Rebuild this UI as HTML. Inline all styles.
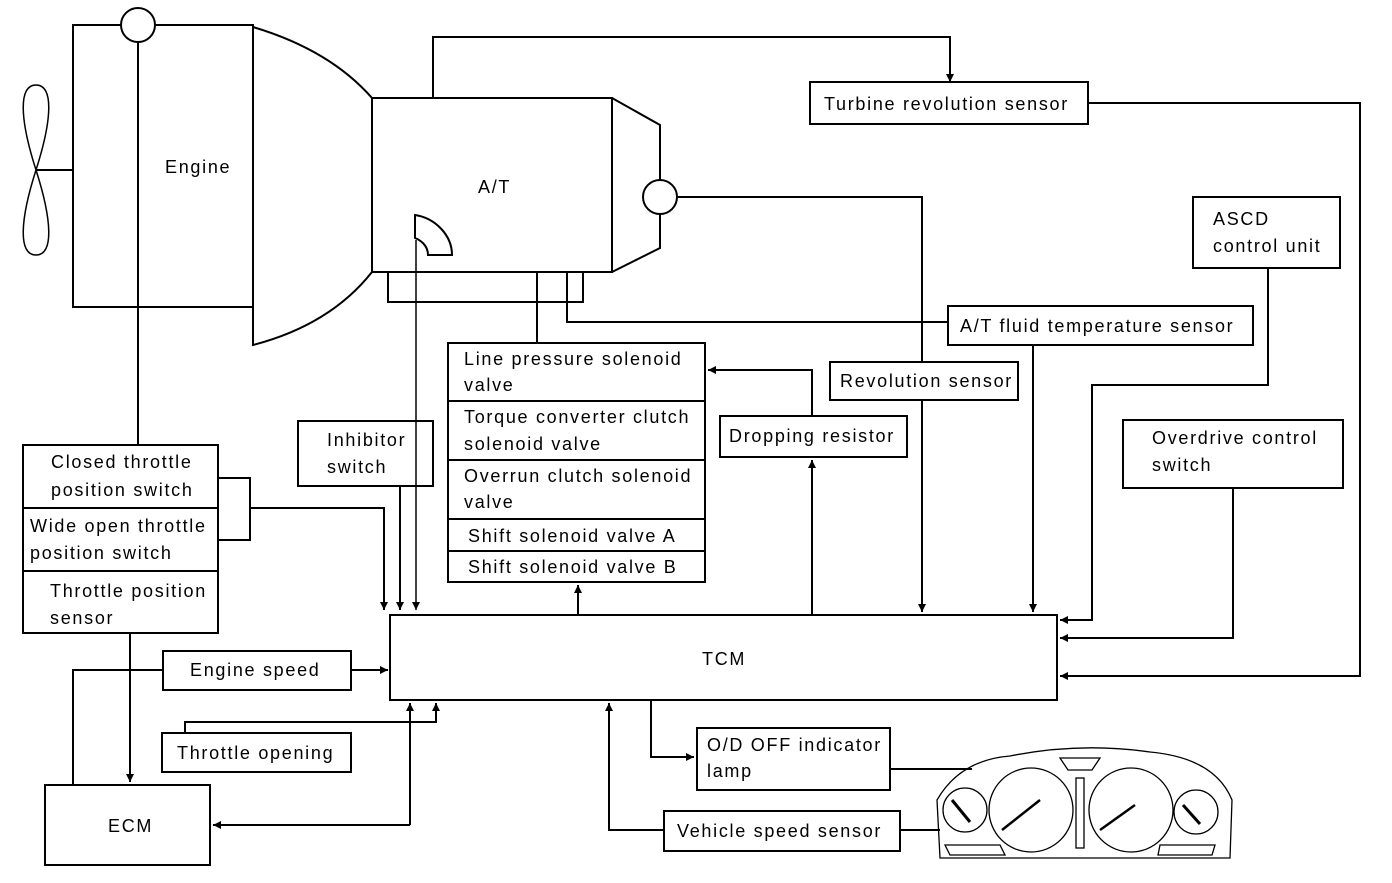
<!DOCTYPE html>
<html><head><meta charset="utf-8"><style>
html,body{margin:0;padding:0;background:#fff;}
svg text{font-family:"Liberation Sans",sans-serif;font-size:18px;fill:#000;letter-spacing:1.7px;}
</style></head><body>
<svg width="1392" height="878" viewBox="0 0 1392 878" xmlns="http://www.w3.org/2000/svg">
<defs><marker id="a" markerWidth="8" markerHeight="10" refX="8" refY="5" orient="auto" markerUnits="userSpaceOnUse"><path d="M0,1 L8,5 L0,9 z" fill="#000"/></marker></defs>
<g fill="none" stroke="#000" stroke-width="2">
<!-- fan -->
<path d="M36,170 C20,120 18,85 36,85 C54,85 52,120 36,170 C20,220 18,255 36,255 C54,255 52,220 36,170" stroke-width="1.5"/>
<line x1="36" y1="170" x2="73" y2="170"/>
<!-- engine -->
<rect x="73" y="25" width="180" height="282"/>
<line x1="138" y1="42" x2="138" y2="445"/>
<circle cx="138" cy="25" r="17" fill="#fff"/>
<path d="M253,27 Q330,50 372,98 L372,272 Q330,325 253,345 Z"/>
<!-- AT -->
<rect x="372" y="98" width="240" height="174"/>
<path d="M612,98 L660,125 L660,248 L612,272"/>
<path d="M415,215 C435,218 452,235 452,255 L428,255 C428,245 420,240 415,238 Z"/>
<circle cx="660" cy="197" r="17" fill="#fff"/>
<rect x="388" y="272" width="195" height="30"/>
<polyline points="433,98 433,37 950,37 950,82" marker-end="url(#a)"/>
<polyline points="677,197 922,197 922,362"/>
<line x1="922" y1="400" x2="922" y2="612" marker-end="url(#a)"/>
<line x1="537" y1="272" x2="537" y2="343"/>
<polyline points="567,272 567,322 948,322"/>
<line x1="416" y1="240" x2="416" y2="610" stroke-width="1.5" marker-end="url(#a)"/>
<line x1="400" y1="486" x2="400" y2="610" marker-end="url(#a)"/>
<!-- boxes -->
<rect x="810" y="82" width="278" height="42"/>
<polyline points="1088,103 1360,103 1360,676 1060,676" marker-end="url(#a)"/>
<rect x="1193" y="197" width="147" height="71"/>
<polyline points="1268,268 1268,385 1092,385 1092,620 1060,620" marker-end="url(#a)"/>
<rect x="948" y="306" width="305" height="39"/>
<line x1="1033" y1="345" x2="1033" y2="612" marker-end="url(#a)"/>
<rect x="1123" y="420" width="220" height="68"/>
<polyline points="1233,488 1233,638 1060,638" marker-end="url(#a)"/>
<rect x="830" y="362" width="188" height="38"/>
<rect x="720" y="416" width="187" height="41"/>
<line x1="812" y1="615" x2="812" y2="460" marker-end="url(#a)"/>
<polyline points="812,416 812,370 708,370" marker-end="url(#a)"/>
<rect x="448" y="343" width="257" height="239"/>
<line x1="448" y1="401" x2="705" y2="401"/>
<line x1="448" y1="460" x2="705" y2="460"/>
<line x1="448" y1="519" x2="705" y2="519"/>
<line x1="448" y1="551" x2="705" y2="551"/>
<line x1="578" y1="615" x2="578" y2="585" marker-end="url(#a)"/>
<rect x="298" y="421" width="135" height="65"/>
<rect x="390" y="615" width="667" height="85"/>
<!-- throttle -->
<rect x="23" y="445" width="195" height="188"/>
<line x1="23" y1="508" x2="218" y2="508"/>
<line x1="23" y1="571" x2="218" y2="571"/>
<polyline points="218,478 250,478 250,540 218,540"/>
<polyline points="250,508 384,508 384,610" marker-end="url(#a)"/>
<line x1="130" y1="633" x2="130" y2="782" marker-end="url(#a)"/>
<rect x="45" y="785" width="165" height="80"/>
<rect x="163" y="651" width="188" height="39"/>
<line x1="351" y1="670" x2="388" y2="670" marker-end="url(#a)"/>
<polyline points="163,670 73,670 73,785"/>
<rect x="162" y="733" width="189" height="39"/>
<polyline points="185,733 185,722 436,722 436,703" marker-end="url(#a)"/>
<polyline points="410,825 213,825" marker-end="url(#a)"/>
<line x1="410" y1="825" x2="410" y2="703" marker-end="url(#a)"/>
<rect x="697" y="728" width="193" height="62"/>
<polyline points="651,700 651,757 694,757" marker-end="url(#a)"/>
<line x1="890" y1="769" x2="972" y2="769"/>
<rect x="664" y="811" width="236" height="40"/>
<polyline points="664,830 609,830 609,703" marker-end="url(#a)"/>
<line x1="900" y1="830" x2="940" y2="830"/>
<!-- cluster -->
<g stroke-width="1.3">
<path d="M940,858 L937,800 Q960,760 1010,756 Q1080,742 1150,752 Q1215,758 1232,800 L1230,858 Z"/>
<circle cx="965" cy="810" r="22"/>
<circle cx="1031" cy="810" r="42"/>
<circle cx="1131" cy="810" r="42"/>
<circle cx="1196" cy="812" r="22"/>
<line x1="952" y1="800" x2="970" y2="822" stroke-width="3"/>
<line x1="1002" y1="830" x2="1040" y2="800" stroke-width="2.5"/>
<line x1="1100" y1="830" x2="1135" y2="805" stroke-width="2.5"/>
<line x1="1183" y1="805" x2="1200" y2="824" stroke-width="3"/>
<path d="M1060,758 L1100,758 L1092,770 L1068,770 Z"/>
<path d="M945,845 L1000,845 L1005,855 L950,855 Z"/>
<path d="M1160,845 L1215,845 L1212,855 L1158,855 Z"/>
<rect x="1076" y="778" width="8" height="70"/>
</g>
</g>
<text x="165" y="173">Engine</text>
<text x="478" y="193">A/T</text>
<text x="824" y="110">Turbine revolution sensor</text>
<text x="1213" y="225">ASCD</text>
<text x="1213" y="252">control unit</text>
<text x="960" y="332">A/T fluid temperature sensor</text>
<text x="840" y="387">Revolution sensor</text>
<text x="1152" y="444">Overdrive control</text>
<text x="1152" y="471">switch</text>
<text x="729" y="442">Dropping resistor</text>
<text x="464" y="365">Line pressure solenoid</text>
<text x="464" y="391">valve</text>
<text x="464" y="423">Torque converter clutch</text>
<text x="464" y="450">solenoid valve</text>
<text x="464" y="482">Overrun clutch solenoid</text>
<text x="464" y="508">valve</text>
<text x="468" y="542">Shift solenoid valve A</text>
<text x="468" y="573">Shift solenoid valve B</text>
<text x="327" y="446">Inhibitor</text>
<text x="327" y="473">switch</text>
<text x="51" y="468">Closed throttle</text>
<text x="51" y="496">position switch</text>
<text x="30" y="532">Wide open throttle</text>
<text x="30" y="559">position switch</text>
<text x="50" y="597">Throttle position</text>
<text x="50" y="624">sensor</text>
<text x="702" y="665">TCM</text>
<text x="190" y="676">Engine speed</text>
<text x="177" y="759">Throttle opening</text>
<text x="108" y="832">ECM</text>
<text x="707" y="751">O/D OFF indicator</text>
<text x="707" y="777">lamp</text>
<text x="677" y="837">Vehicle speed sensor</text>
</svg>
</body></html>
